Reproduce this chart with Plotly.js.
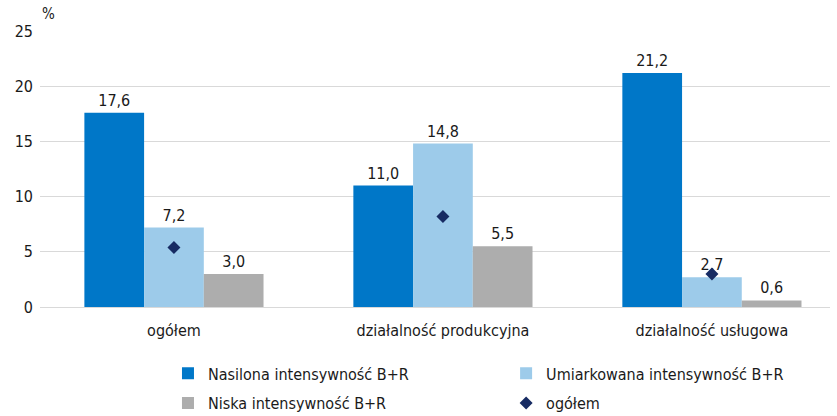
<!DOCTYPE html>
<html>
<head>
<meta charset="utf-8">
<script src="https://cdn.plot.ly/plotly-3.0.1.min.js"></script>
<style>html,body{margin:0;padding:0;background:#fff;}#chart{width:837px;height:416px;}</style>
</head>
<body>
<div id="chart"></div>
<script>
const categories = ["ogółem", "działalność produkcyjna", "działalność usługowa"];
const seriesNames = ["Nasilona intensywność B+R", "Umiarkowana intensywność B+R", "Niska intensywność B+R"];
const nasilona = [17.6, 11.0, 21.2];
const umiarkowana = [7.2, 14.8, 2.7];
const niska = [3.0, 5.5, 0.6];
const ogolemName = "ogółem";
const ogolem = [5.4, 8.2, 3.0];
const yTicks = [0, 5, 10, 15, 20, 25];

const FONT = "'Liberation Sans Narrow', 'DejaVu Sans Condensed', 'Roboto', sans-serif";
const colors = ["#0077C8", "#9DCBEA", "#ADADAD"];
const values = [nasilona, umiarkowana, niska];
const legendIds = ["legend", "legend2", "legend"];

const traces = values.map((v, i) => ({
  type: "bar",
  name: seriesNames[i],
  x: categories,
  y: v,
  marker: {color: colors[i], line: {width: 0}},
  texttemplate: "%{y:.1f}",
  textposition: "outside",
  textfont: {family: FONT, size: 16, color: "#1a1a1a"},
  cliponaxis: false,
  legend: legendIds[i],
  legendgroup: "g" + i,
  hoverinfo: "skip"
}));
traces.push({
  type: "scatter",
  mode: "markers",
  name: ogolemName,
  x: categories,
  y: ogolem,
  marker: {symbol: "diamond", size: 10, color: "#172B63"},
  legend: "legend2",
  legendgroup: "g3",
  hoverinfo: "skip"
});

const legendBase = {
  orientation: "v",
  font: {family: FONT, size: 16, color: "#1a1a1a"},
  bgcolor: "rgba(0,0,0,0)",
  traceorder: "grouped",
  tracegroupgap: 6,
  xanchor: "left",
  yanchor: "top",
  xref: "paper",
  yref: "paper",
  itemwidth: 30
};

const layout = {
  width: 837,
  height: 416,
  margin: {l: 40, r: 7, t: 31, b: 109, autoexpand: false},
  paper_bgcolor: "#fff",
  plot_bgcolor: "#fff",
  separators: ", ",
  font: {family: FONT, size: 16, color: "#1a1a1a"},
  barmode: "group",
  bargap: 0.334,
  bargroupgap: 0,
  showlegend: true,
  xaxis: {
    type: "category",
    range: [-0.498, 2.439],
    showgrid: false,
    showline: false,
    zeroline: false,
    ticks: "",
    ticklabelstandoff: 12,
    tickfont: {family: FONT, size: 16, color: "#1a1a1a"}
  },
  yaxis: {
    range: [0, 25],
    tickvals: yTicks,
    showgrid: true,
    gridcolor: "#D9D9D9",
    gridwidth: 1,
    zeroline: true,
    zerolinecolor: "#D9D9D9",
    zerolinewidth: 1,
    showline: false,
    ticks: "",
    ticklabelstandoff: 6,
    tickfont: {family: FONT, size: 16, color: "#1a1a1a"}
  },
  legend: Object.assign({}, legendBase, {x: 0.162, y: -0.179}),
  legend2: Object.assign({}, legendBase, {x: 0.59, y: -0.179}),
  annotations: [{
    text: "%",
    xref: "paper", yref: "paper",
    x: 0, y: 1, xanchor: "left", yanchor: "bottom",
    yshift: 6,
    showarrow: false,
    font: {family: FONT, size: 15, color: "#1a1a1a"}
  }]
};

Plotly.newPlot("chart", traces, layout, {staticPlot: true, displayModeBar: false});
</script>
</body>
</html>
